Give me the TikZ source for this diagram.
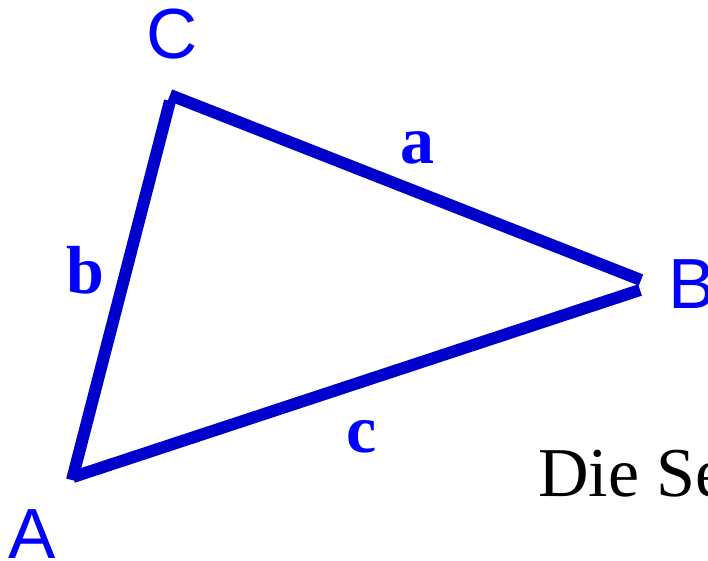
\documentclass[tikz,border=0pt]{standalone}
\usepackage{fontspec}
\setmainfont{Liberation Serif}
\newfontfamily\labfont{Liberation Sans}
\definecolor{edgeblue}{RGB}{0,0,204}
\definecolor{labblue}{RGB}{0,0,255}
\tikzset{
  edge/.style={draw=edgeblue, line width=12pt, line cap=butt},
  vlabel/.style={inner sep=0pt, text=labblue, font=\labfont\fontsize{71}{80}\selectfont, anchor=base west},
  slabel/.style={inner sep=0pt, text=labblue, font=\bfseries\fontsize{68}{80}\selectfont, anchor=base west},
  plain/.style={inner sep=0pt, text=black, font=\fontsize{70}{80}\selectfont, anchor=base west}
}
\begin{document}
\begin{tikzpicture}[x=1pt,y=-1pt]
\useasboundingbox (0,0) rectangle (708,560);
\clip (0,0) rectangle (708,560);
% vertex coordinates
\coordinate (Ca) at (170,95);
\coordinate (Ba) at (641,280);
\coordinate (Cb) at (170,101);
\coordinate (Ab) at (72,480);
\coordinate (Ac) at (73,477);
\coordinate (Bc) at (640,290);
% sides
\draw[edge] (Ca) -- (Ba);
\draw[edge] (Cb) -- (Ab);
\draw[edge] (Ac) -- (Bc);
% vertex labels
\node[vlabel] (lC) at (146,58) {C};
\node[vlabel] (lB) at (668,308) {B};
\node[vlabel] (lA) at (8,558) {A};
% side labels
\node[slabel] (la) at (400,163) {a};
\node[slabel] (lb) at (66,293) {b};
\node[slabel] (lc) at (346,452) {c};
% text
\node[plain] (txt) at (538,496) {Die Se};
\end{tikzpicture}
\end{document}
